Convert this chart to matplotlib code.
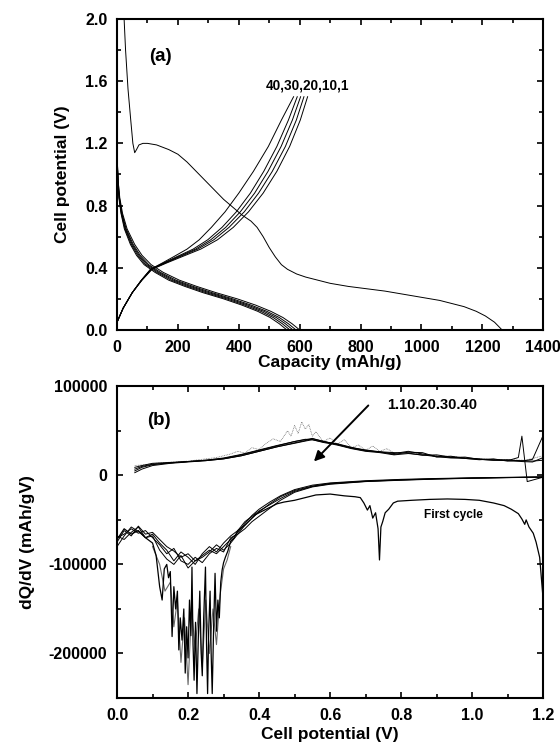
import matplotlib
matplotlib.use('Agg')
import matplotlib.pyplot as plt
from matplotlib.ticker import MultipleLocator

plt.rcParams['font.family'] = ['Liberation Sans', 'DejaVu Sans']
plt.rcParams['font.weight'] = 'bold'

# ---- panel (a): capacity vs potential ----
cap_first = [22, 28, 36, 45, 52, 58, 64, 72, 85, 100, 130, 170, 200, 230, 260, 290, 320, 350, 380, 410,
             440, 460, 480, 500, 520, 540, 560, 590, 620, 660, 700, 760, 820, 880, 940, 1000, 1060, 1100,
             1140, 1180, 1210, 1240, 1265]
v_first = [2.05, 1.8, 1.55, 1.35, 1.2, 1.14, 1.16, 1.19, 1.2, 1.2, 1.19, 1.16, 1.13, 1.08, 1.02, 0.96, 0.9,
           0.84, 0.79, 0.74, 0.7, 0.66, 0.6, 0.53, 0.47, 0.42, 0.39, 0.36, 0.34, 0.32, 0.3, 0.28, 0.265, 0.25,
           0.23, 0.21, 0.19, 0.17, 0.15, 0.12, 0.09, 0.05, 0.0]

dis_v_a = [1.12, 0.95, 0.85, 0.75, 0.65, 0.55, 0.48, 0.42, 0.37, 0.32, 0.28, 0.24, 0.2, 0.16, 0.12, 0.08, 0.04, 0.0]
dis_a = {
    1: [0, 4, 9, 18, 33, 58, 82, 112, 152, 205, 262, 325, 395, 455, 505, 545, 575, 600],
    10: [0, 4, 8, 16, 30, 53, 76, 104, 143, 194, 250, 312, 380, 440, 492, 533, 563, 588],
    20: [0, 3, 7, 15, 28, 50, 72, 99, 137, 186, 241, 302, 370, 430, 482, 523, 553, 578],
    30: [0, 3, 7, 14, 26, 47, 68, 94, 131, 178, 232, 292, 360, 420, 472, 513, 543, 568],
    40: [0, 3, 6, 13, 24, 44, 64, 89, 125, 170, 223, 282, 350, 410, 462, 503, 533, 558],
}

chg_v_a = [0.05, 0.14, 0.24, 0.32, 0.39, 0.43, 0.47, 0.52, 0.58, 0.66, 0.76, 0.88, 1.02, 1.18, 1.35, 1.5]
chg_a = {
    40: [0, 20, 50, 80, 110, 148, 185, 230, 270, 310, 355, 400, 448, 497, 540, 580],
    30: [0, 20, 50, 80, 110, 152, 195, 250, 298, 345, 392, 438, 482, 525, 563, 592],
    20: [0, 20, 50, 80, 112, 155, 200, 258, 308, 357, 405, 452, 496, 539, 576, 603],
    10: [0, 20, 50, 81, 113, 158, 205, 265, 318, 368, 418, 465, 510, 553, 589, 614],
    1: [0, 20, 50, 82, 115, 162, 212, 275, 330, 382, 432, 480, 525, 567, 602, 626],
}

# ---- panel (b): dQ/dV ----
chg_v_b = [0.05, 0.07, 0.1, 0.15, 0.2, 0.25, 0.3, 0.35, 0.4, 0.45, 0.5, 0.53, 0.55, 0.58, 0.62,
           0.66, 0.7, 0.74, 0.78, 0.82, 0.86, 0.9, 0.94, 0.98, 1.02, 1.06, 1.1, 1.14, 1.17, 1.2]
chg_b = {
    10: [5000, 9000, 12000, 14000, 15500, 17000, 19500, 23500, 28500, 33500, 38000, 40000, 41500, 38000, 35000,
         31000, 28500, 26500, 25500, 25000, 22500, 23000, 20500, 19500, 18500, 17500, 17000, 16500, 16000, 17000],
    20: [7000, 10000, 12500, 14000, 15500, 17000, 19000, 23000, 28000, 33000, 38000, 40500, 40000, 37500, 35500,
         31500, 28000, 26000, 24500, 27000, 24000, 21500, 20000, 20500, 18000, 17000, 17500, 15500, 15000, 20000],
    30: [9000, 11000, 13500, 14500, 15500, 16500, 18500, 22000, 27000, 32000, 36500, 39000, 41000, 38500, 34500,
         30500, 27500, 26500, 23500, 26000, 25500, 20500, 21500, 19000, 17500, 18500, 16000, 16000, 18000, 45000],
}
chg1_v = [0.05, 0.07, 0.1, 0.15, 0.2, 0.25, 0.3, 0.35, 0.4, 0.45, 0.5, 0.53, 0.55, 0.58, 0.62, 0.66, 0.7,
          0.74, 0.78, 0.82, 0.86, 0.9, 0.94, 0.98, 1.02, 1.06, 1.1, 1.13, 1.14, 1.155, 1.2]
chg1_q = [3000, 7000, 11000, 13500, 15000, 16500, 18500, 22000, 27000, 32000, 36000, 38500, 40000, 37000, 34000,
          30000, 27000, 25500, 23000, 24500, 23000, 21000, 19500, 19000, 18000, 17000, 16500, 20000, 44000, -7000, -2000]
chg40_v = [0.05, 0.08, 0.12, 0.16, 0.2, 0.24, 0.28, 0.32, 0.34, 0.36, 0.38, 0.40, 0.42, 0.44, 0.46, 0.48, 0.49,
           0.50, 0.51, 0.52, 0.53, 0.54, 0.55, 0.56, 0.58, 0.60, 0.62, 0.64, 0.66, 0.68, 0.70, 0.72, 0.74, 0.76,
           0.78, 0.82, 0.86, 0.9, 0.95, 1.0, 1.05, 1.1, 1.15, 1.2]
chg40_q = [11000, 12000, 14000, 15000, 16000, 18000, 20000, 24000, 27000, 25000, 31000, 29000, 36000, 41000,
           38000, 50000, 44000, 56000, 47000, 60000, 52000, 57000, 44000, 49000, 38000, 42000, 35000, 40000,
           31000, 34000, 28000, 33000, 27000, 30000, 25000, 26000, 24000, 22000, 21000, 19000, 18000, 17500,
           17000, 22000]

dis_v_b = [0.0, 0.02, 0.04, 0.06, 0.08, 0.1, 0.12, 0.14, 0.16, 0.18, 0.2, 0.22, 0.24, 0.26, 0.28, 0.3, 0.32,
           0.34, 0.36, 0.38, 0.4, 0.43, 0.46, 0.5, 0.55, 0.6, 0.7, 0.8, 0.9, 1.0, 1.1, 1.2]
dis_b = {
    10: [-75000, -62000, -68000, -57000, -66000, -64000, -72000, -80000, -85000, -92000, -88000, -96000, -90000,
         -84000, -88000, -80000, -72000, -64000, -54000, -45000, -38000, -30000, -23000, -16000, -11000, -8500,
         -6000, -4500, -3500, -2800, -2200, -1800],
    20: [-70000, -66000, -60000, -65000, -62000, -70000, -78000, -88000, -82000, -96000, -100000, -92000, -98000,
         -88000, -82000, -86000, -70000, -66000, -56000, -48000, -41000, -32000, -24000, -17000, -12000, -9000,
         -6500, -5000, -3800, -3000, -2400, -1900],
    30: [-80000, -68000, -58000, -63000, -70000, -68000, -84000, -94000, -100000, -90000, -104000, -96000, -92000,
         -86000, -78000, -84000, -76000, -66000, -60000, -52000, -46000, -37000, -28000, -19000, -13000, -10000,
         -7000, -5500, -4200, -3300, -2600, -2000],
    40: [-68000, -72000, -64000, -58000, -70000, -66000, -76000, -84000, -96000, -86000, -92000, -100000, -88000,
         -80000, -86000, -76000, -68000, -62000, -52000, -46000, -40000, -33000, -26000, -18000, -12500, -9500,
         -6800, -5200, -4000, -3100, -2500, -1900],
}

first_v = [0.0, 0.02, 0.04, 0.06, 0.08, 0.1, 0.11, 0.12, 0.127, 0.133, 0.14, 0.145, 0.15, 0.155, 0.16, 0.165,
           0.17, 0.174, 0.178, 0.183, 0.188, 0.192, 0.196, 0.2, 0.204, 0.208, 0.211, 0.214, 0.217, 0.221, 0.225,
           0.229, 0.233, 0.237, 0.24, 0.244, 0.249, 0.252, 0.255, 0.258, 0.262, 0.265, 0.268, 0.272, 0.276, 0.28,
           0.284, 0.288, 0.292, 0.296, 0.3, 0.305, 0.312, 0.32, 0.33, 0.34, 0.36, 0.375, 0.39, 0.41, 0.43, 0.45,
           0.47, 0.5, 0.53, 0.56, 0.6, 0.64, 0.67, 0.685, 0.695, 0.705, 0.712, 0.72, 0.728, 0.735, 0.739, 0.743,
           0.748, 0.755, 0.765, 0.778, 0.79, 0.83, 0.88, 0.93, 0.98, 1.02, 1.06, 1.09, 1.11, 1.13, 1.14, 1.148,
           1.152, 1.16, 1.172, 1.18, 1.19, 1.2]
first_q = [-72000, -60000, -66000, -62000, -70000, -76000, -90000, -125000, -140000, -105000, -100000, -115000,
           -108000, -181000, -125000, -150000, -130000, -196000, -160000, -185000, -150000, -222000, -170000,
           -205000, -140000, -180000, -103000, -190000, -230000, -165000, -245000, -180000, -130000, -200000,
           -225000, -160000, -103000, -190000, -245000, -175000, -130000, -200000, -245000, -170000, -110000,
           -175000, -140000, -160000, -120000, -106000, -98000, -92000, -85000, -74000, -70000, -62000, -56000,
           -50000, -44000, -40000, -36000, -32000, -30000, -28000, -25000, -22000, -21000, -23000, -24000, -25000,
           -31000, -39000, -34000, -48000, -42000, -60000, -95000, -58000, -52000, -42000, -38000, -31000, -29000,
           -28000, -27000, -26500, -27000, -28000, -31000, -34000, -38000, -43000, -49000, -55000, -50000, -58000,
           -65000, -75000, -92000, -140000]
# second, paler trace of the deep reduction region
first2_v = [0.1, 0.12, 0.135, 0.15, 0.16, 0.17, 0.18, 0.19, 0.2, 0.21, 0.22, 0.23, 0.24, 0.25, 0.26, 0.27,
            0.28, 0.29, 0.3, 0.31, 0.32]
first2_q = [-80000, -100000, -130000, -120000, -170000, -140000, -210000, -160000, -235000, -150000, -195000,
            -150000, -215000, -140000, -200000, -150000, -190000, -135000, -105000, -95000, -80000]

LW = 0.7
FS = 11.5

fig = plt.figure(figsize=(5.6, 7.44), dpi=100)
ax1 = fig.add_axes([0.209, 0.5565, 0.761, 0.418])
ax2 = fig.add_axes([0.209, 0.0618, 0.761, 0.419])

ax1.plot(cap_first, v_first, color='black', lw=LW)
for c in dis_a:
    ax1.plot(dis_a[c], dis_v_a, color='black', lw=LW)
for c in chg_a:
    ax1.plot(chg_a[c], chg_v_a, color='black', lw=LW)
ax1.text(490, 1.575, '40,30,20,10,1', fontsize=9.8, fontweight='bold', va='center')
ax1.text(141, 1.756, '(a)', fontsize=13.5, fontweight='bold', va='center', ha='center')
ax1.set_xlim(0, 1400)
ax1.set_ylim(0, 2.0)
ax1.xaxis.set_major_locator(MultipleLocator(200))
ax1.xaxis.set_minor_locator(MultipleLocator(100))
ax1.yaxis.set_major_locator(MultipleLocator(0.4))
ax1.yaxis.set_minor_locator(MultipleLocator(0.2))
ax1.yaxis.set_major_formatter(plt.FuncFormatter(lambda v, p: '%.1f' % v))
ax1.set_xlabel('Capacity (mAh/g)', fontsize=12.5, fontweight='bold', labelpad=0)
ax1.set_ylabel('Cell potential (V)', fontsize=12.5, fontweight='bold', labelpad=11)

ax2.plot(chg40_v, chg40_q, color='0.45', lw=0.6, ls=(0, (1, 1)))
for c in chg_b:
    ax2.plot(chg_v_b, chg_b[c], color='black', lw=LW)
ax2.plot(chg1_v, chg1_q, color='black', lw=LW)
for c in dis_b:
    ax2.plot(dis_v_b, dis_b[c], color='black', lw=LW)
ax2.plot(first2_v, first2_q, color='0.4', lw=0.8)
ax2.plot(first_v, first_q, color='black', lw=0.9)
ax2.annotate('', xy=(0.549, 13400), xytext=(0.713, 80700),
             arrowprops=dict(arrowstyle='-|>', color='black', lw=1.4, mutation_scale=15))
ax2.text(0.76, 78500, '1.10.20.30.40', fontsize=10.5, fontweight='bold', va='center')
ax2.text(0.947, -45000, 'First cycle', fontsize=8.6, fontweight='bold', va='center', ha='center')
ax2.text(0.119, 61700, '(b)', fontsize=13.5, fontweight='bold', va='center', ha='center')
ax2.set_xlim(0, 1.2)
ax2.set_ylim(-250000, 100000)
ax2.xaxis.set_major_locator(MultipleLocator(0.2))
ax2.xaxis.set_minor_locator(MultipleLocator(0.1))
ax2.yaxis.set_major_locator(MultipleLocator(100000))
ax2.yaxis.set_minor_locator(MultipleLocator(50000))
ax2.xaxis.set_major_formatter(plt.FuncFormatter(lambda v, p: '%.1f' % v))
ax2.yaxis.set_major_formatter(plt.FuncFormatter(lambda v, p: '%d' % v))
ax2.set_xlabel('Cell potential (V)', fontsize=12.5, fontweight='bold', labelpad=3)
ax2.set_ylabel('dQ/dV (mAh/gV)', fontsize=12.5, fontweight='bold', labelpad=10)

for ax in (ax1, ax2):
    for s in ax.spines.values():
        s.set_linewidth(1.5)
    ax.tick_params(which='both', direction='in', top=True, right=True, width=1.2,
                   labelsize=FS)
    ax.tick_params(axis='x', pad=7)
    ax.tick_params(axis='y', pad=7)
    ax.tick_params(which='major', length=4)
    ax.tick_params(which='minor', length=3)
    for lab in ax.get_xticklabels() + ax.get_yticklabels():
        lab.set_fontweight('bold')

fig.savefig('out.png', dpi=100)
